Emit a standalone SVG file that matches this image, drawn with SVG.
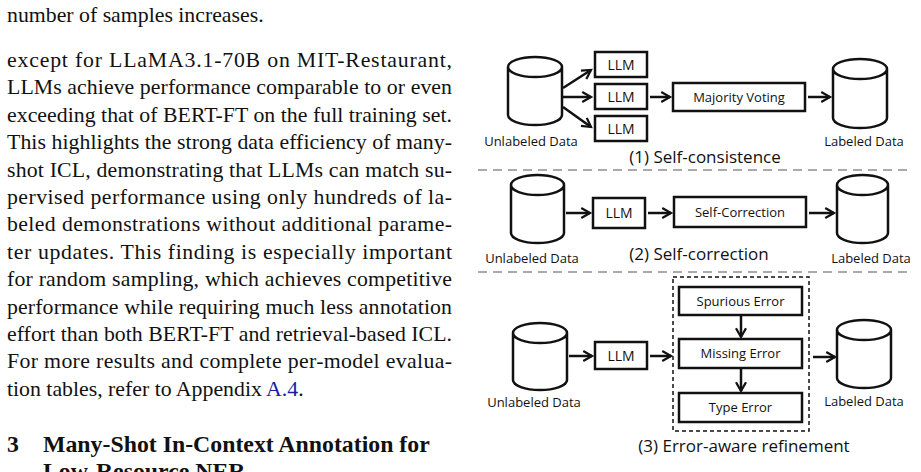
<svg xmlns="http://www.w3.org/2000/svg" width="921" height="472" viewBox="0 0 921 472">
<style>
.body{font-family:"Liberation Serif","Times New Roman",serif;font-size:21.8px;fill:#111}
.head{font-family:"Liberation Serif",serif;font-size:23.8px;font-weight:bold;fill:#111}
.lab{font-family:"Open Sans","Noto Sans",sans-serif;font-size:13px;fill:#111;text-anchor:middle}
.llm{font-size:14px}
.cap{font-family:"Open Sans","Noto Sans",sans-serif;font-size:17px;fill:#111;text-anchor:middle}
.box{fill:#fff;stroke:#111;stroke-width:2.5}
.cyl{fill:#fff;stroke:#111;stroke-width:2.5}
.con{fill:none;stroke:#111;stroke-width:2.5;marker-end:url(#ah)}
.sep{stroke:#aaa;stroke-width:2;stroke-dasharray:9 6}
</style>
<defs>
<marker id="ah" viewBox="0 0 10 10" refX="8" refY="5" markerWidth="5" markerHeight="5" orient="auto" markerUnits="strokeWidth">
<path d="M1,1 L8,5 L1,9" fill="none" stroke="#111" stroke-width="1.8"/>
</marker>
</defs>
<rect width="921" height="472" fill="#fff"/>
<g id="text">
<text class="body" x="7" y="22">number of samples increases.</text>
<text class="body" x="7" y="67" textLength="445" lengthAdjust="spacing">except for LLaMA3.1-70B on MIT-Restaurant,</text>
<text class="body" x="7" y="94" textLength="445" lengthAdjust="spacing">LLMs achieve performance comparable to or even</text>
<text class="body" x="7" y="122" textLength="445" lengthAdjust="spacing">exceeding that of BERT-FT on the full training set.</text>
<text class="body" x="7" y="149" textLength="445" lengthAdjust="spacing">This highlights the strong data efficiency of many-</text>
<text class="body" x="7" y="177" textLength="445" lengthAdjust="spacing">shot ICL, demonstrating that LLMs can match su-</text>
<text class="body" x="7" y="204" textLength="445" lengthAdjust="spacing">pervised performance using only hundreds of la-</text>
<text class="body" x="7" y="231" textLength="445" lengthAdjust="spacing">beled demonstrations without additional parame-</text>
<text class="body" x="7" y="259" textLength="445" lengthAdjust="spacing">ter updates. This finding is especially important</text>
<text class="body" x="7" y="286" textLength="445" lengthAdjust="spacing">for random sampling, which achieves competitive</text>
<text class="body" x="7" y="314" textLength="445" lengthAdjust="spacing">performance while requiring much less annotation</text>
<text class="body" x="7" y="341" textLength="445" lengthAdjust="spacing">effort than both BERT-FT and retrieval-based ICL.</text>
<text class="body" x="7" y="368" textLength="445" lengthAdjust="spacing">For more results and complete per-model evalua-</text>
<text class="body" x="7" y="396">tion tables, refer to Appendix <tspan fill="#1a1aa6">A.4</tspan>.</text>
<text class="head" x="7" y="452">3</text>
<text class="head" x="43" y="452">Many-Shot In-Context Annotation for</text>
<text class="head" x="43" y="479">Low-Resource NER</text>
</g>
<g id="separators">
<line class="sep" x1="478" y1="170" x2="912" y2="170"/>
<line class="sep" x1="478" y1="272" x2="912" y2="272"/>
</g>
<g id="connectors">
<line class="con" x1="563" y1="88" x2="591" y2="70"/>
<line class="con" x1="563" y1="97" x2="591" y2="97"/>
<line class="con" x1="563" y1="107" x2="591" y2="127"/>
<line class="con" x1="650" y1="97" x2="670" y2="97"/>
<line class="con" x1="808" y1="97" x2="830" y2="97"/>
<line class="con" x1="566" y1="213" x2="590" y2="213"/>
<line class="con" x1="648" y1="213" x2="671" y2="213"/>
<line class="con" x1="809" y1="213" x2="834" y2="213"/>
<line class="con" x1="569" y1="356" x2="592" y2="356"/>
<line class="con" x1="650" y1="356" x2="671" y2="356"/>
<line class="con" x1="813" y1="357" x2="835" y2="357"/>
<line class="con" x1="741" y1="316" x2="741" y2="337"/>
<line class="con" x1="741" y1="369" x2="741" y2="391"/>
</g>
<g id="s1-unlabeled">
<path class="cyl" d="M508,67 v48 a27,10 0 0 0 54,0 v-48 a27,10 0 0 0 -54,0 a27,10 0 0 0 54,0"/>
<text class="lab" x="531" y="146">Unlabeled Data</text>
</g>
<g id="s1-llm1"><rect class="box" x="595" y="52" width="52" height="25"/><text class="lab llm" x="621" y="70">LLM</text></g>
<g id="s1-llm2"><rect class="box" x="595" y="84" width="52" height="25"/><text class="lab llm" x="621" y="102">LLM</text></g>
<g id="s1-llm3"><rect class="box" x="595" y="116" width="52" height="25"/><text class="lab llm" x="621" y="134">LLM</text></g>
<g id="s1-vote"><rect class="box" x="673" y="83" width="132" height="28"/><text class="lab" x="739" y="102" font-size="14.5">Majority Voting</text></g>
<g id="s1-labeled">
<path class="cyl" d="M833,69 v49 a27,10 0 0 0 54,0 v-49 a27,10 0 0 0 -54,0 a27,10 0 0 0 54,0"/>
<text class="lab" x="864" y="146">Labeled Data</text>
</g>
<text class="cap" x="705" y="163">(1) Self-consistence</text>
<g id="s2-unlabeled">
<path class="cyl" d="M511,185 v48 a26.5,10 0 0 0 53,0 v-48 a26.5,10 0 0 0 -53,0 a26.5,10 0 0 0 53,0"/>
<text class="lab" x="532" y="263">Unlabeled Data</text>
</g>
<g id="s2-llm"><rect class="box" x="593" y="198" width="52" height="30"/><text class="lab llm" x="619" y="218">LLM</text></g>
<g id="s2-corr"><rect class="box" x="674" y="197" width="132" height="30"/><text class="lab" x="740" y="217" font-size="14.5">Self-Correction</text></g>
<g id="s2-labeled">
<path class="cyl" d="M837,185 v48 a25.5,10 0 0 0 51,0 v-48 a25.5,10 0 0 0 -51,0 a25.5,10 0 0 0 51,0"/>
<text class="lab" x="871" y="263">Labeled Data</text>
</g>
<text class="cap" x="699" y="260">(2) Self-correction</text>
<g id="s3-unlabeled">
<path class="cyl" d="M513,333 v47 a27,10 0 0 0 54,0 v-47 a27,10 0 0 0 -54,0 a27,10 0 0 0 54,0"/>
<text class="lab" x="534" y="407">Unlabeled Data</text>
</g>
<g id="s3-llm"><rect class="box" x="595" y="342" width="52" height="27"/><text class="lab llm" x="621" y="361">LLM</text></g>
<g id="s3-refine">
<rect x="673" y="277" width="136" height="154" fill="none" stroke="#111" stroke-width="1.5" stroke-dasharray="4 3"/>
<g id="s3-spurious"><rect class="box" x="679" y="287" width="123" height="28"/><text class="lab" x="740.5" y="306" font-size="14.5">Spurious Error</text></g>
<g id="s3-missing"><rect class="box" x="679" y="339" width="123" height="29"/><text class="lab" x="740.5" y="358" font-size="14.5">Missing Error</text></g>
<g id="s3-type"><rect class="box" x="679" y="393" width="123" height="29"/><text class="lab" x="740.5" y="412" font-size="14.5">Type Error</text></g>
</g>
<g id="s3-labeled">
<path class="cyl" d="M837,330 v48 a27,10 0 0 0 54,0 v-48 a27,10 0 0 0 -54,0 a27,10 0 0 0 54,0"/>
<text class="lab" x="864" y="406">Labeled Data</text>
</g>
<text class="cap" x="744" y="452">(3) Error-aware refinement</text>
</svg>
